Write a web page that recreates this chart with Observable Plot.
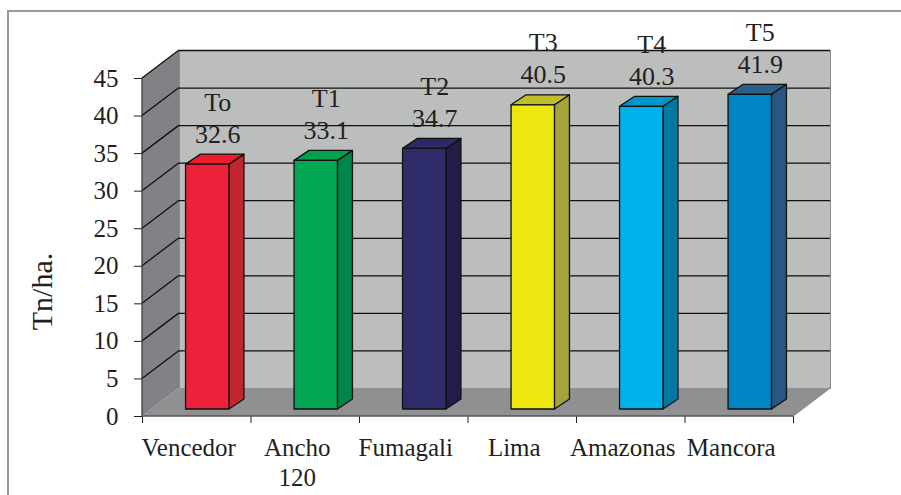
<!DOCTYPE html>
<html>
<head>
<meta charset="utf-8">
<script src="https://cdn.jsdelivr.net/npm/d3@7"></script>
<script src="https://cdn.jsdelivr.net/npm/@observablehq/plot@0.6"></script>
<style>
  html, body { margin: 0; padding: 0; background: #fff; overflow: hidden; }
  #wrap { position: relative; width: 901px; height: 495px; }
  #frame { position: absolute; left: 7px; top: 10px; width: 900px; height: 500px;
           border-left: 2px solid #9a9a9a; border-top: 2px solid #9a9a9a; box-sizing: border-box; }
  #chart { position: absolute; left: 0; top: 0; }
</style>
</head>
<body>
<div id="wrap"><div id="frame"></div><div id="chart"></div></div>
<script>
// ---- data ----
const categories = ["Vencedor", "Ancho\n120", "Fumagali", "Lima", "Amazonas", "Mancora"];
const codes = ["To", "T1", "T2", "T3", "T4", "T5"];
const values = [32.6, 33.1, 34.7, 40.5, 40.3, 41.9];
const yTicks = [0, 5, 10, 15, 20, 25, 30, 35, 40, 45];
const yLabel = ["Tn/ha."];

// ---- styles ----
const frontColors = ["#ED223A", "#00A651", "#2E2D69", "#EDE60F", "#00B2EC", "#0085C4"];
const sideColors  = ["#C1262F", "#00854A", "#221D47", "#A3A53A", "#0079A2", "#2A577F"];
const topColors   = ["#EE1D2D", "#00A14D", "#2B2A64", "#BEBE30", "#0095C9", "#2C5F8A"];
const DX = 37, DY = 28;          // wall depth
const BDX = 15, BDY = 10;        // bar depth
const BOX = 11, BOY = 7;         // bar offset inside the floor depth
const BAR_FRAC = 0.4;
const FONT = "'Liberation Serif', 'Times New Roman', serif";
const ymax = yTicks[yTicks.length - 1];
const n = categories.length;

const rows = categories.map((c, i) => ({cat: c, code: codes[i], value: values[i], i}));

function sideWall(index, {x, y}) {
  const g = d3.create("svg:g");
  const x0 = x(0);
  const pts = [[x0, y(0)], [x0, y(ymax)], [x0 + DX, y(ymax) - DY], [x0 + DX, y(0) - DY]];
  g.append("polygon").attr("points", pts.join(" ")).attr("fill", "#808285").attr("stroke", "none");
  // floor
  const xn = x(n);
  const fl = [[x0, y(0)], [xn, y(0)], [xn + DX, y(0) - DY], [x0 + DX, y(0) - DY]];
  g.append("polygon").attr("points", fl.join(" ")).attr("fill", "#8E9092").attr("stroke", "none");
  g.append("line").attr("x1", xn).attr("y1", y(0)).attr("x2", xn + DX).attr("y2", y(0) - DY)
    .attr("stroke", "#8a8a8a").attr("stroke-width", 1.2);
  g.append("line").attr("x1", x0).attr("y1", y(0)).attr("x2", xn).attr("y2", y(0))
    .attr("stroke", "#555").attr("stroke-width", 1.4);
  // diagonal gridlines on side wall
  for (const t of yTicks.slice(1)) {
    g.append("line").attr("x1", x0).attr("y1", y(t)).attr("x2", x0 + DX).attr("y2", y(t) - DY)
      .attr("stroke", "#111").attr("stroke-width", 1.3);
  }
  g.append("line").attr("x1", x0).attr("y1", y(0)).attr("x2", x0).attr("y2", y(ymax))
    .attr("stroke", "#333").attr("stroke-width", 1.2);
  return g.node();
}

function bars3d(index, {x, y}) {
  const g = d3.create("svg:g").attr("stroke", "#111").attr("stroke-width", 1.3).attr("stroke-linejoin", "round");
  const bw = (x(1) - x(0)) * BAR_FRAC;
  rows.forEach((d, i) => {
    const xc = x(i + 0.5) + BOX;
    const xl = xc - bw / 2, xr = xc + bw / 2;
    const base = y(0) - BOY;
    const top = y(d.value) - BOY;
    g.append("polygon").attr("points", [[xr, base], [xr, top], [xr + BDX, top - BDY], [xr + BDX, base - BDY]].join(" "))
      .attr("fill", sideColors[i]);
    g.append("polygon").attr("points", [[xl, top], [xr, top], [xr + BDX, top - BDY], [xl + BDX, top - BDY]].join(" "))
      .attr("fill", topColors[i]);
    g.append("rect").attr("x", xl).attr("y", top).attr("width", bw).attr("height", base - top)
      .attr("fill", frontColors[i]);
  });
  return g.node();
}

const chart = Plot.plot({
  width: 901,
  height: 495,
  marginLeft: 142,
  marginRight: 108,
  marginTop: 78,
  marginBottom: 79,
  style: {fontFamily: FONT, fontSize: "25px", color: "#231F20", background: "transparent"},
  x: {domain: [0, n], ticks: d3.range(0, n + 1), tickFormat: () => "", tickSize: 7, label: null},
  y: {domain: [0, ymax], ticks: yTicks, tickSize: 8, tickPadding: 16, label: null},
  marks: [
    Plot.frame({fill: "#BCBDBD", stroke: "#8a8a8a", dx: DX, dy: -DY}),
    Plot.ruleY(yTicks.slice(1), {dx: DX, dy: -DY, stroke: "#111", strokeWidth: 1.3}),
    sideWall,
    bars3d,
    Plot.text(rows, {
      x: d => d.i + 0.5, y: d => d.value,
      text: d => d.code + "\n" + d.value.toFixed(1),
      lineAnchor: "bottom", lineHeight: 1.23, dx: 21, dy: -29,
      fontSize: 26, fill: "#231F20"
    }),
    Plot.text(rows, {
      x: d => d.i + 0.5, y: () => 0, text: d => d.cat,
      lineAnchor: "top", lineHeight: 1.18, dx: -8, dy: 19,
      fontSize: 25, fill: "#231F20"
    }),
    Plot.text(yLabel, {
      frameAnchor: "left", textAnchor: "middle", text: d => d, rotate: -90,
      dx: -100, dy: 44, fontSize: 30, fill: "#231F20"
    })
  ]
});
document.getElementById("chart").appendChild(chart);
</script>
</body>
</html>
